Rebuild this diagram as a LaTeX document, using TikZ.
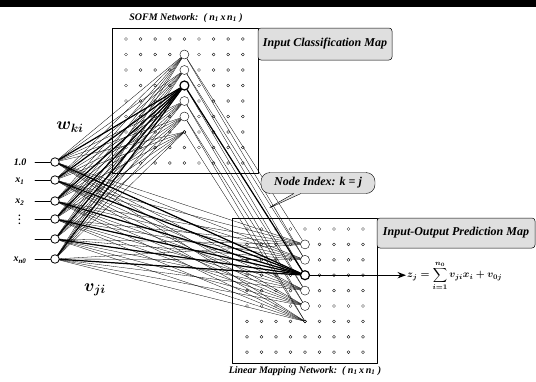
\documentclass[tikz,border=0pt]{standalone}
\usepackage{fontspec}
\setmainfont{Liberation Serif}
\usetikzlibrary{shapes.callouts,arrows.meta}

\begin{document}
\begin{tikzpicture}[x=1pt, y=-1pt, font=\bfseries\itshape\normalsize, line join=round, line cap=round, >=Stealth,
  dot/.style={circle, draw, inner sep=0pt, minimum size=3pt, line width=0.3pt},
  unit/.style={circle, draw, fill=white, inner sep=0pt, minimum size=9pt, line width=0.4pt},
  winner/.style={unit, line width=1.2pt},
  inunit/.style={circle, draw, fill=white, inner sep=0pt, minimum size=8.5pt, line width=0.8pt},
  link/.style={line width=0.3pt},
  boldlink/.style={line width=1.2pt},
  mapbox/.style={draw, fill=gray!25, rounded corners=3pt, line width=0.5pt, font=\bfseries\itshape\large, inner sep=0pt}]
\useasboundingbox (0,0) rectangle (536,381);
\fill[black] (0,0) rectangle (536,7);

% SOFM network
\draw[line width=0.8pt] (112,28) rectangle (258,173);
\foreach \i in {1,...,9} \foreach \j in {1,...,9}
  \node[dot] (s-\i-\j) at ({126+14.6*(\i-1)},{39+15.5*(\j-1)}) {};
\foreach \r in {2,3,5,6} \node[unit] (sh-\r) at (s-5-\r) {};
\node[winner] (sh-4) at (s-5-4) {};
\node[dot] (sh-7) at (s-5-7) {};
\node (sofm) at (186,18) {SOFM Network:\ \ ( \textit{n}\textsubscript{1}\,x\,\textit{n}\textsubscript{1} )};
\node[mapbox, minimum width=134pt, minimum height=32pt] (icm) at (325,44) {Input Classification Map};

% linear mapping network
\draw[line width=0.8pt] (232,218) rectangle (377,363);
\foreach \i in {1,...,9} \foreach \j in {1,...,9}
  \node[dot] (l-\i-\j) at ({247+14.5*(\i-1)},{229+15.4*(\j-1)}) {};
\foreach \r in {2,3,5,6} \node[unit] (lh-\r) at (l-5-\r) {};
\node[winner] (lh-4) at (l-5-4) {};
\node[dot] (lh-7) at (l-5-7) {};
\node (lmn) at (305,371) {Linear Mapping Network:\ \ ( \textit{n}\textsubscript{1}\,x\,\textit{n}\textsubscript{1} )};
\node[mapbox, minimum width=158pt, minimum height=30pt] (iopm) at (456,233) {Input-Output Prediction Map};

% inputs
\foreach \k/\y in {1/162,2/180,3/201,4/219,5/239,6/259} {
  \node[inunit] (in-\k) at (55,\y) {};
  \coordinate (st-\k) at (35,\y);
  \draw[line width=0.9pt] (st-\k) -- (in-\k);
}
\node (lab-1) at (20,162) {1.0};
\node (lab-2) at (20,181) {x\textsubscript{1}};
\node (lab-3) at (20,202) {x\textsubscript{2}};
\node[inner sep=0pt] (lab-4) at (20,217) {$\vdots$};
\node (lab-6) at (20,260) {x\textsubscript{\textit{n}0}};

% weights
\foreach \k in {1,...,6} {
  \foreach \r in {2,...,7} {
    \draw[link] (in-\k) -- (sh-\r);
    \draw[link] (in-\k) -- (lh-\r);
  }
  \draw[boldlink] (in-\k) -- (sh-4);
  \draw[boldlink] (in-\k) -- (lh-4);
}
\foreach \r in {2,...,7} \draw[link] (sh-\r) -- (lh-\r);
\foreach \r [evaluate=\r as \q using int(\r+1)] in {2,...,6} \draw[link] (sh-\r) -- (lh-\q);
\draw[boldlink] (sh-4) -- (lh-4);

\node[font=\LARGE\boldmath] (wki) at (70,127) {$w_{ki}$};
\node[font=\LARGE\boldmath] (vji) at (95,290) {$v_{ji}$};

% node index
\node[rectangle callout, draw, fill=gray!25, rounded corners=9pt, minimum width=114pt, minimum height=21pt, inner sep=0pt,
  callout absolute pointer={(265,210)}, font=\bfseries\itshape\large] (nidx) at (318,183) {Node Index: \textit{k} = \textit{j}};

% output
\node[anchor=west, inner sep=1pt, font=\boldmath\normalsize] (zout) at (406,276) {$\displaystyle z_j=\sum_{i=1}^{n_0} v_{ji}x_i+v_{0j}$};
\draw[->, line width=1.2pt] (lh-4) -- (lh-4 -| zout.west);
\end{tikzpicture}
\end{document}
